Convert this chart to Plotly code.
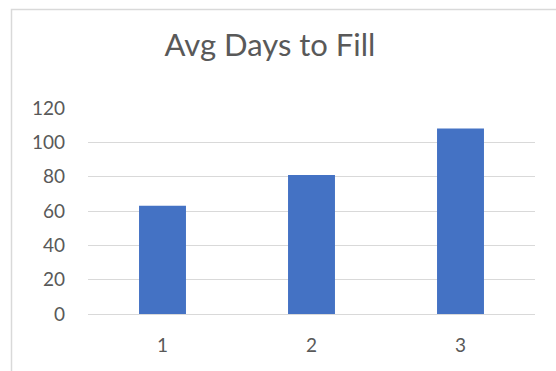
import plotly.graph_objects as go

categories = ["1", "2", "3"]
avg_days = [63, 81, 108]
y_ticks = [0, 20, 40, 60, 80, 100, 120]
title_text = "Avg Days to Fill"

W, H = 556, 371
L, R, T, B = 88, 21, 108, 57
pw = W - L - R
ph = H - T - B

def px_x(x):
    return (x - L) / pw

def px_y(y):
    return (H - B - y) / ph

fig = go.Figure()
fig.add_trace(go.Bar(
    x=categories, y=avg_days, width=0.315,
    marker=dict(color="#4472C4", line=dict(width=0)),
))

fig.update_layout(
    width=W, height=H,
    margin=dict(l=L, r=R, t=T, b=B, pad=0),
    paper_bgcolor="white", plot_bgcolor="white",
    showlegend=False,
    font=dict(family="Lato", color="#595959"),
    title=dict(text=title_text, font=dict(size=31, color="#595959", family="Lato"),
               x=270 / W, xanchor="center", xref="container",
               y=1 - 45 / H, yanchor="middle", yref="container"),
    xaxis=dict(type="category", showgrid=False, showline=False, zeroline=False,
               ticks="", tickfont=dict(size=19, color="#595959"),
               ticklabelstandoff=18),
    yaxis=dict(range=[0, 120], tickvals=y_ticks, showgrid=True,
               gridcolor="#D9D9D9", gridwidth=1, zeroline=True,
               zerolinecolor="#D9D9D9", zerolinewidth=1, showline=False,
               ticks="", tickfont=dict(size=19, color="#595959"),
               ticklabelstandoff=22),
    shapes=[dict(type="rect", xref="paper", yref="paper",
                 x0=px_x(11.5), x1=px_x(565), y0=px_y(9.5), y1=px_y(380),
                 line=dict(color="#D9D9D9", width=1.5), fillcolor="rgba(0,0,0,0)",
                 layer="below")],
)

fig.write_html("out.html")
